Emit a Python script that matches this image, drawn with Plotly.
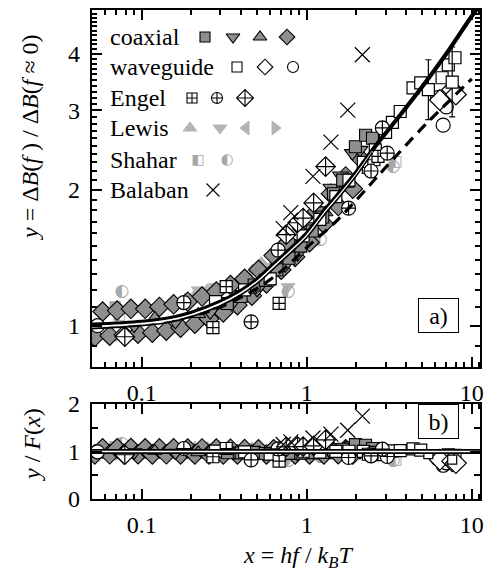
import numpy as np
import plotly.graph_objects as go

# ---------------- data ----------------
curve_x = [0.05, 0.1, 0.15, 0.2, 0.3, 0.4, 0.5, 0.65, 0.8, 1.0, 1.3, 1.6, 2.0, 2.7, 3.5, 5.0, 7.0, 10.0, 11.5]
curve_y = [1.005, 1.02, 1.04, 1.068, 1.13, 1.195, 1.265, 1.38, 1.48, 1.60, 1.81, 1.98, 2.19, 2.54, 2.86, 3.38, 4.0, 4.85, 5.2]
fit_x = [0.05, 0.1, 0.15, 0.2, 0.3, 0.4, 0.5, 0.65, 0.8, 1.0, 1.3, 1.6, 2.0, 2.5]
fit_white_y = [0.995, 1.01, 1.03, 1.057, 1.119, 1.183, 1.252, 1.366, 1.465, 1.584, 1.792, 1.960, 2.168, 2.43]
fit_black_y = [0.985, 1.0, 1.019, 1.047, 1.107, 1.171, 1.240, 1.352, 1.450, 1.568, 1.774, 1.940, 2.150, 2.42]
dash_x = [0.05, 0.1, 0.2, 0.3, 0.5, 0.7, 1.0, 1.5, 2.0, 2.5, 3.0, 5.0, 7.0, 10.0]
dash_y = [1.0, 1.012, 1.05, 1.10, 1.21, 1.32, 1.49, 1.70, 1.90, 2.08, 2.24, 2.74, 3.10, 3.52]

coax_dia_x = [0.052, 0.058, 0.064, 0.071, 0.078, 0.086, 0.095, 0.105, 0.116, 0.128, 0.141, 0.156, 0.172, 0.19,
              0.21, 0.232, 0.256, 0.283, 0.312, 0.345, 0.38, 0.42, 0.465, 0.51, 0.57, 0.63, 0.7, 0.77, 0.85,
              0.94, 1.04, 1.15, 1.27, 1.4, 1.55, 1.72, 1.9, 2.1]
coax_dia_y = [0.945, 1.075, 0.95, 1.08, 0.955, 1.09, 0.96, 1.09, 0.965, 1.10, 0.975, 1.115, 0.99, 1.13,
              1.01, 1.16, 1.035, 1.19, 1.07, 1.23, 1.11, 1.27, 1.165, 1.33, 1.24, 1.43, 1.33, 1.53, 1.42,
              1.64, 1.53, 1.79, 1.68, 1.96, 1.84, 2.14, 2.01, 2.35]
coax_sq_x = [0.33, 0.4, 0.48, 0.56, 0.66, 0.78, 0.92, 1.08, 1.25, 1.45, 1.65, 1.97, 2.27, 2.5]
coax_sq_y = [1.12, 1.16, 1.23, 1.26, 1.33, 1.41, 1.50, 1.62, 1.74, 1.96, 2.10, 2.49, 2.64, 2.60]
coax_tdn_x = [0.09, 0.16, 0.26, 0.36, 0.5, 0.62, 0.74, 0.88, 1.02, 1.2, 1.4, 1.6, 1.89, 2.1]
coax_tdn_y = [1.0, 1.02, 1.07, 1.13, 1.20, 1.30, 1.36, 1.44, 1.66, 1.80, 2.02, 2.15, 2.41, 2.45]
coax_tup_x = [0.12, 0.22, 0.45, 0.8, 1.3, 1.75]
coax_tup_y = [1.04, 1.06, 1.20, 1.42, 1.78, 2.06]

wg_sq_x = [0.28, 0.42, 0.6, 0.95, 1.2, 1.5, 1.8, 2.2, 2.6, 3.0, 3.3, 3.68, 4.4, 4.9, 6.6, 7.2, 7.9]
wg_sq_y = [1.13, 1.20, 1.27, 1.58, 1.72, 1.93, 2.10, 2.30, 2.45, 2.68, 2.82, 2.98, 3.36, 3.45, 3.54, 3.78, 3.92]
wg_err_x = [5.45, 7.6]
wg_err_y = [3.33, 3.46]
wg_err_up = [0.55, 0.68]
wg_err_dn = [0.47, 0.56]
wg_ci_x = [0.054, 6.2, 6.7, 7.0]
wg_ci_y = [1.0, 3.2, 2.78, 3.05]
wg_di_x = [6.4, 7.6, 8.0]
wg_di_y = [3.16, 3.33, 3.25]

en_sq_x = [0.27, 0.325, 0.68, 2.36, 2.55, 2.7]
en_sq_y = [0.99, 1.22, 1.12, 2.24, 2.33, 2.37]
en_ci_x = [0.18, 0.46, 0.67, 1.79, 2.45, 3.07, 2.87]
en_ci_y = [1.125, 1.02, 1.47, 1.82, 2.20, 2.41, 2.74]
en_di_x = [0.079, 0.75, 0.88, 0.95, 1.10, 1.30]
en_di_y = [0.945, 1.59, 1.69, 1.73, 1.87, 2.25]

lw_up_x = [0.065, 0.21, 0.25, 0.47, 0.53]
lw_up_y = [0.96, 1.17, 1.20, 1.33, 1.38]
lw_dn_x = [0.07, 0.22, 0.28, 0.5, 0.77]
lw_dn_y = [0.95, 1.20, 1.22, 1.31, 1.22]
lw_lf_x = [0.23, 0.45, 0.6]
lw_lf_y = [1.15, 1.30, 1.35]
lw_rt_x = [0.19, 0.3, 0.55]
lw_rt_y = [1.14, 1.19, 1.36]

sh_sq_x = [0.069, 0.073, 3.45]
sh_sq_y = [1.096, 1.057, 2.30]
sh_ci_x = [0.076, 0.152, 0.77, 1.21, 3.34]
sh_ci_y = [1.19, 1.11, 1.19, 1.55, 2.25]

ba_x = [0.72, 0.8, 1.09, 1.40, 1.77, 2.17]
ba_y = [1.64, 1.78, 2.14, 2.55, 3.0, 3.98]

legend_labels = ["coaxial", "waveguide", "Engel", "Lewis", "Shahar", "Balaban"]
x_ticks = [0.1, 1, 10]
x_tick_text = ["0.1", "1", "10"]
y_ticks = [1, 2, 3, 4]
y2_ticks = [0, 1, 2]

# ---------------- styling / layout constants ----------------
W, H = 485, 576
ML, MR, MT, MB = 92, 5, 10, 77
TOP_PX, MID_PX = 367, 404
FONT = "Liberation Serif"
FS = 24
GREY = "#8e8e8e"
LGREY = "#b4b4b4"
SGREY = "#a8a8a8"
X_RANGE = [np.log10(0.05), np.log10(11.2)]
Y_RANGE = [np.log10(0.81), np.log10(5.0)]

ph = H - MT - MB
pw = W - ML - MR
def pap_y(py):
    return (H - MB - py) / ph
def pap_x(px):
    return (px - ML) / pw
def in_top_x(px):
    return (px - ML) / pw
def in_top_y(py):
    return (TOP_PX - py) / (TOP_PX - MT)

lx, ly = np.log(curve_x), np.log(curve_y)
def F(x):
    return np.exp(np.interp(np.log(np.asarray(x, float)), lx, ly))

fig = go.Figure()

def add_markers(xs, ys, symbol, size, fill, line_color="black", lw=1.2, row=1):
    xs = np.asarray(xs, float); ys = np.asarray(ys, float)
    yy = ys if row == 1 else ys / F(xs)
    fig.add_trace(go.Scatter(
        x=xs, y=yy, mode="markers", xaxis="x" if row == 1 else "x2", yaxis="y" if row == 1 else "y2",
        marker=dict(symbol=symbol, size=size, color=fill, line=dict(color=line_color, width=lw)),
        hoverinfo="skip"))

def add_glyph(xs, ys, glyph, size, color, row=1):
    xs = np.asarray(xs, float); ys = np.asarray(ys, float)
    yy = ys if row == 1 else ys / F(xs)
    fig.add_trace(go.Scatter(
        x=xs, y=yy, mode="text", text=[glyph] * len(xs), textposition="middle center",
        textfont=dict(family="DejaVu Sans", size=size, color=color),
        xaxis="x" if row == 1 else "x2", yaxis="y" if row == 1 else "y2", hoverinfo="skip"))

for row in (1, 2):
    add_markers(lw_up_x, lw_up_y, "triangle-up", 12, LGREY, LGREY, 1, row)
    add_markers(lw_dn_x, lw_dn_y, "triangle-down", 12, LGREY, LGREY, 1, row)
    add_markers(lw_lf_x, lw_lf_y, "triangle-left", 12, LGREY, LGREY, 1, row)
    add_markers(lw_rt_x, lw_rt_y, "triangle-right", 12, LGREY, LGREY, 1, row)
    add_glyph(sh_sq_x, sh_sq_y, "◧", 15, SGREY, row)
    add_glyph(sh_ci_x, sh_ci_y, "◐", 17, SGREY, row)
    add_markers(coax_dia_x, coax_dia_y, "diamond", 15, GREY, "black", 1.1, row)
    add_markers(coax_tdn_x, coax_tdn_y, "triangle-down", 14, GREY, "black", 1.1, row)
    add_markers(coax_tup_x, coax_tup_y, "triangle-up", 13, GREY, "black", 1.1, row)
    add_markers(coax_sq_x, coax_sq_y, "square", 12, GREY, "black", 1.1, row)
    add_markers(wg_sq_x, wg_sq_y, "square", 12, "white", "black", 1.2, row)
    add_markers(wg_ci_x, wg_ci_y, "circle", 14, "white", "black", 1.2, row)
    add_markers(wg_di_x, wg_di_y, "diamond", 16, "white", "black", 1.2, row)
    add_markers(en_sq_x, en_sq_y, "square-cross", 12, "white", "black", 1.2, row)
    add_markers(en_ci_x, en_ci_y, "circle-cross", 14, "white", "black", 1.2, row)
    add_markers(en_di_x, en_di_y, "diamond-cross", 15, "white", "black", 1.2, row)
    add_markers(ba_x, ba_y, "x-thin-open", 15, "black", "black", 1.2, row)

fig.add_trace(go.Scatter(
    x=wg_err_x, y=wg_err_y, mode="markers", xaxis="x", yaxis="y",
    marker=dict(symbol="square", size=12, color="white", line=dict(color="black", width=1.2)),
    error_y=dict(type="data", symmetric=False, array=wg_err_up, arrayminus=wg_err_dn,
                 color="black", thickness=1.2, width=3), hoverinfo="skip"))
fig.add_trace(go.Scatter(
    x=wg_err_x, y=np.asarray(wg_err_y) / F(wg_err_x), mode="markers", xaxis="x2", yaxis="y2",
    marker=dict(symbol="square", size=9, color="white", line=dict(color="black", width=1.2)),
    hoverinfo="skip"))

fig.add_trace(go.Scatter(x=dash_x, y=dash_y, mode="lines", line=dict(color="black", width=3.2, dash="11px,7px", shape="spline"),
                         xaxis="x", yaxis="y", hoverinfo="skip"))
fig.add_trace(go.Scatter(x=curve_x, y=curve_y, mode="lines", line=dict(color="black", width=4.2, shape="spline"),
                         xaxis="x", yaxis="y", hoverinfo="skip"))
fig.add_trace(go.Scatter(x=fit_x, y=fit_white_y, mode="lines", line=dict(color="white", width=1.7, shape="spline"),
                         xaxis="x", yaxis="y", hoverinfo="skip"))
fig.add_trace(go.Scatter(x=fit_x, y=fit_black_y, mode="lines", line=dict(color="black", width=1.6, shape="spline"),
                         xaxis="x", yaxis="y", hoverinfo="skip"))
ratio_line = np.asarray(curve_y) / F(curve_x)
fig.add_trace(go.Scatter(x=curve_x, y=ratio_line, mode="lines", line=dict(color="black", width=5),
                         xaxis="x2", yaxis="y2", hoverinfo="skip"))
fig.add_trace(go.Scatter(x=curve_x, y=ratio_line, mode="lines", line=dict(color="white", width=1.5),
                         xaxis="x2", yaxis="y2", hoverinfo="skip"))

legend_rows_py = [37, 67, 98, 128, 160, 190]
legend_marks = [
    [(205, "square", 10, GREY, "black"), (233, "triangle-down", 12, GREY, "black"),
     (260, "triangle-up", 12, GREY, "black"), (287, "diamond", 12, GREY, "black")],
    [(237, "square", 10, "white", "black"), (265, "diamond", 12, "white", "black"),
     (293, "circle", 11, "white", "black")],
    [(192, "square-cross", 10, "white", "black"), (217, "circle-cross", 11, "white", "black"),
     (245, "diamond-cross", 13, "white", "black")],
    [(190, "triangle-up", 12, LGREY, LGREY), (220, "triangle-down", 12, LGREY, LGREY),
     (246, "triangle-left", 12, LGREY, LGREY), (275, "triangle-right", 12, LGREY, LGREY)],
    [(198, "glyph:◧", 14, SGREY, SGREY), (227, "glyph:◐", 15, SGREY, SGREY)],
    [(213, "x-thin-open", 13, "black", "black")],
]
for lab, py, marks in zip(legend_labels, legend_rows_py, legend_marks):
    fig.add_annotation(x=pap_x(108), y=pap_y(py), xref="paper", yref="paper", text=lab,
                       showarrow=False, xanchor="left", yanchor="middle",
                       font=dict(family=FONT, size=FS, color="black"))
    for px, sym, sz, fill, lc in marks:
        if sym.startswith("glyph:"):
            fig.add_trace(go.Scatter(x=[in_top_x(px)], y=[in_top_y(py)], mode="text", text=[sym[6:]],
                                     textposition="middle center",
                                     textfont=dict(family="DejaVu Sans", size=sz, color=fill),
                                     xaxis="x3", yaxis="y3", hoverinfo="skip"))
        else:
            fig.add_trace(go.Scatter(x=[in_top_x(px)], y=[in_top_y(py)], mode="markers",
                                     marker=dict(symbol=sym, size=sz, color=fill,
                                                 line=dict(color=lc, width=1.1 if lc == "black" else 1)),
                                     xaxis="x3", yaxis="y3", hoverinfo="skip"))

x_minor = [v * m for v in (0.01, 0.1, 1) for m in range(2, 10)] + [11]
x_minor = [v for v in x_minor if 0.05 <= v <= 11.2 and v not in x_ticks]
y_minor = [round(0.9 + 0.1 * i, 2) for i in range(0, 42)]
y_minor = [v for v in y_minor if v not in y_ticks and v <= 5.0]

common_axis = dict(showline=True, linewidth=2.2, linecolor="black", mirror="allticks", ticks="inside",
                   tickwidth=1.5, tickcolor="black", showgrid=False, zeroline=False, automargin=False,
                   tickfont=dict(family=FONT, size=FS, color="black"))
xaxis_cfg = dict(common_axis, type="log", range=X_RANGE, tickvals=x_ticks, ticktext=x_tick_text, ticklen=10,
                 ticklabelstandoff=3,
                 minor=dict(tickvals=x_minor, ticks="inside", ticklen=5, tickwidth=1.5, tickcolor="black",
                            showgrid=False))

fig.update_layout(
    width=W, height=H, margin=dict(l=ML, r=MR, t=MT, b=MB, autoexpand=False),
    plot_bgcolor="white", paper_bgcolor="white", showlegend=False,
    font=dict(family=FONT, size=FS, color="black"),
    xaxis=dict(xaxis_cfg, domain=[0, 1], anchor="y"),
    yaxis=dict(common_axis, type="log", range=Y_RANGE, domain=[pap_y(TOP_PX), 1], anchor="x",
               tickvals=y_ticks, ticktext=[str(v) for v in y_ticks], ticklen=10, ticklabelstandoff=5,
               minor=dict(tickvals=y_minor, ticks="inside", ticklen=5, tickwidth=1.5, tickcolor="black",
                          showgrid=False)),
    xaxis2=dict(xaxis_cfg, domain=[0, 1], anchor="y2"),
    yaxis2=dict(common_axis, range=[0, 2], domain=[0, pap_y(MID_PX)], anchor="x2",
                tickvals=y2_ticks, ticktext=[str(v) for v in y2_ticks], ticklen=10, ticklabelstandoff=5,
                minor=dict(tickvals=[0.5, 1.5], ticks="inside", ticklen=6, tickwidth=1.5, tickcolor="black",
                           showgrid=False)),
    xaxis3=dict(overlaying="x", anchor="y3", range=[0, 1], visible=False),
    yaxis3=dict(overlaying="y", anchor="x3", range=[0, 1], visible=False),
)

center = dict(xref="paper", yref="paper", showarrow=False, xanchor="center", yanchor="middle")
fig.add_annotation(x=pap_x(30), y=pap_y(137), textangle=-90,
                   text="<i>y</i> = Δ<i>B</i>(<i>f</i> ) / Δ<i>B</i>(<i>f</i> ≈ 0)",
                   font=dict(family=FONT, size=FS, color="black"), **center)
fig.add_annotation(x=pap_x(32), y=pap_y(445), textangle=-90,
                   text="<i>y</i> / <i>F</i>(<i>x</i>)", font=dict(family=FONT, size=FS, color="black"), **center)
fig.add_annotation(x=pap_x(298), y=pap_y(557),
                   text="<i>x</i> = <i>hf</i> / <i>k</i><sub><i>B</i></sub><i>T</i>",
                   font=dict(family=FONT, size=FS, color="black"), **center)
for lab, cy in (("a)", 315), ("b)", 421)):
    fig.add_annotation(x=pap_x(438.5), y=pap_y(cy), text=lab,
                       width=39, height=33, borderpad=0, bordercolor="black", borderwidth=1,
                       bgcolor="white", font=dict(family=FONT, size=FS, color="black"), **center)

fig.write_html("out.html")
